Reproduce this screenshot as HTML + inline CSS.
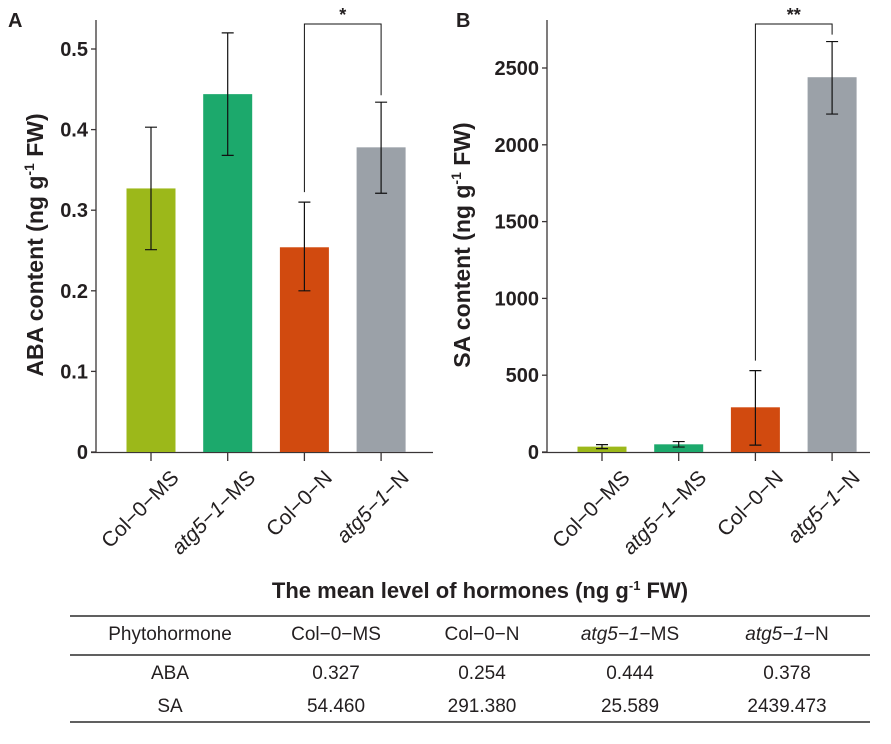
<!DOCTYPE html>
<html><head><meta charset="utf-8"><style>
body{margin:0;background:#fff;font-family:"Liberation Sans",Arial,sans-serif}
svg text{font-family:"Liberation Sans",Arial,sans-serif;fill:#231f20}
</style></head><body>
<svg id="s" width="891" height="739" xmlns="http://www.w3.org/2000/svg">
<g id="ga"></g>
<g id="gb"></g>
<g font-size="19" text-anchor="middle">
<text x="480" y="598" font-size="22" font-weight="bold">The mean level of hormones (ng g<tspan font-size="13" dy="-8">-1</tspan><tspan dy="8"> FW)</tspan></text>
<line x1="70" x2="870" y1="616" y2="616" stroke="#000" stroke-width="1.2"/>
<line x1="70" x2="870" y1="655" y2="655" stroke="#000" stroke-width="1.2"/>
<line x1="70" x2="870" y1="722" y2="722" stroke="#000" stroke-width="1.2"/>
<text x="170" y="640">Phytohormone</text><text x="336" y="640">Col−0−MS</text><text x="482" y="640">Col−0−N</text>
<text x="630" y="640"><tspan font-style="italic">atg5−1</tspan>−MS</text><text x="787" y="640"><tspan font-style="italic">atg5−1</tspan>−N</text>
<text x="170" y="679">ABA</text><text x="336" y="679">0.327</text><text x="482" y="679">0.254</text><text x="630" y="679">0.444</text><text x="787" y="679">0.378</text>
<text x="170" y="712">SA</text><text x="336" y="712">54.460</text><text x="482" y="712">291.380</text><text x="630" y="712">25.589</text><text x="787" y="712">2439.473</text>
</g>
</svg>
<script>
const categories=["Col−0−MS","atg5−1−MS","Col−0−N","atg5−1−N"];
const italicPart=["","atg5−1","","atg5−1"];
const colors=["#9cb81a","#1ca96c","#d14a0f","#9ba1a8"];
const abaValues=[0.327,0.444,0.254,0.378];
const abaLow=[0.251,0.368,0.2,0.321];
const abaHigh=[0.403,0.52,0.31,0.434];
const abaTicks=[0,0.1,0.2,0.3,0.4,0.5];
const saValues=[35,50,291,2440];
const saLow=[22,32,45,2200];
const saHigh=[48,68,530,2672];
const saTicks=[0,500,1000,1500,2000,2500];
const NS="http://www.w3.org/2000/svg";
function mk(p,t,a,txt){const e=document.createElementNS(NS,t);for(const k in a)e.setAttribute(k,a[k]);if(txt!=null)e.textContent=txt;p.appendChild(e);return e;}
function panel(g,o){
 const y=v=>o.y0-(v/o.max)*(o.y0-o.yTop);
 const x=i=>o.first+i*o.step;
 mk(g,'line',{x1:o.ax,x2:o.ax,y1:o.y0+1,y2:20,stroke:'#3a3536','stroke-width':1.3});
 mk(g,'line',{x1:o.ax-5,x2:o.axEnd,y1:o.y0+0.5,y2:o.y0+0.5,stroke:'#3a3536','stroke-width':1.3});
 o.ticks.forEach(t=>{
  const l=mk(g,'line',{x1:o.ax-5,x2:o.ax,y1:y(t),y2:y(t),stroke:'#3a3536','stroke-width':1.3});
  
  const tx=mk(g,'text',{x:o.ax-8,y:y(t)+7,'text-anchor':'end','font-size':20,'font-weight':'bold'},String(t));
  
 });
 mk(g,'text',{x:o.labX,y:o.labY,transform:`rotate(-90 ${o.labX} ${o.labY})`,'text-anchor':'middle','font-size':23,'font-weight':'bold'}).innerHTML=o.title;
 mk(g,'text',{x:o.letterX,y:27,'font-size':20,'font-weight':'bold'},o.letter);
 o.vals.forEach((v,i)=>{
  const cx=x(i);
  const r=mk(g,'rect',{x:cx-24.5,y:y(v),width:49,height:o.y0-y(v),fill:colors[i]});
  
  const e=mk(g,'path',{d:`M${cx} ${y(o.lo[i])}V${y(o.hi[i])}M${cx-6} ${y(o.lo[i])}h12M${cx-6} ${y(o.hi[i])}h12`,stroke:'#111','stroke-width':1.2,fill:'none'});
  
  mk(g,'line',{x1:cx,x2:cx,y1:o.y0+1,y2:o.y0+9,stroke:'#3a3536','stroke-width':1.3});
  const lx=cx+29,ly=o.y0+27;
  const t=mk(g,'text',{x:lx,y:ly,transform:`rotate(-45 ${lx} ${ly})`,'text-anchor':'end','font-size':21});
  
  if(italicPart[i]){mk(t,'tspan',{'font-style':'italic'},italicPart[i]);mk(t,'tspan',{},categories[i].slice(italicPart[i].length));}
  else t.textContent=categories[i];
 });
 const a=x(2),b=x(3),top=24;
 const br=mk(g,'path',{d:`M${a} ${y(o.hi[2])-10}V${top}H${b}V${y(o.hi[3])-7}`,stroke:'#111','stroke-width':1,fill:'none'});
 
 mk(g,'text',{x:(a+b)/2,y:top-3,'text-anchor':'middle','font-size':18,'font-weight':'bold'},o.star);
}
panel(document.getElementById('ga'),{ax:96,axEnd:433,first:151,step:76.7,y0:452,yTop:49,max:0.5,ticks:abaTicks,vals:abaValues,lo:abaLow,hi:abaHigh,labX:43,labY:245,title:'ABA content (ng g<tspan font-size="14" dy="-9">-1</tspan><tspan dy="9"> FW)</tspan>',letter:'A',letterX:8,star:'*'});
panel(document.getElementById('gb'),{ax:547,axEnd:870,first:602,step:76.7,y0:452,yTop:68,max:2500,ticks:saTicks,vals:saValues,lo:saLow,hi:saHigh,labX:470,labY:245,title:'SA content (ng g<tspan font-size="14" dy="-9">-1</tspan><tspan dy="9"> FW)</tspan>',letter:'B',letterX:456,star:'**'});
</script>
</body></html>
